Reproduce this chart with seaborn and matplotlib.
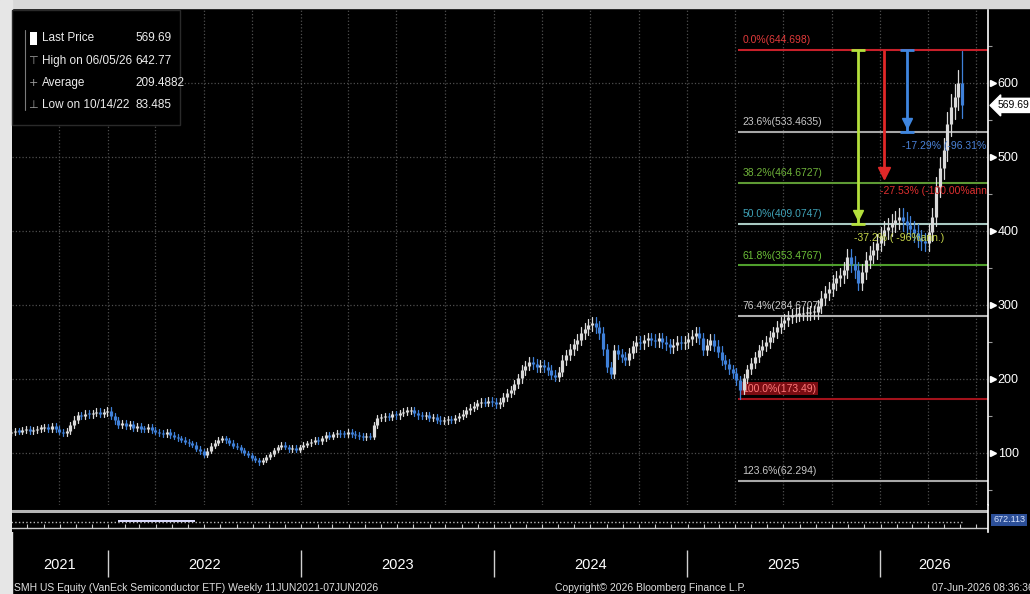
import numpy as np
import pandas as pd
import matplotlib
matplotlib.use("Agg")
import matplotlib.pyplot as plt
import matplotlib.dates as mdates
import matplotlib.transforms as mtransforms
from matplotlib.patches import Rectangle
from matplotlib.lines import Line2D
import seaborn as sns

# weekly closes, week ending 11 Jun 2021 .. 5 Jun 2026
first_week = "2021-06-11"
first_open = 125.0
closes = [
    126, 128, 127, 128, 130, 129, 131, 132, 130, 131,
    133, 134, 135, 133, 136, 132, 129, 127, 130, 138,
    145, 151, 150, 153, 152, 154, 156, 153, 155, 157,
    150, 144, 138, 141, 136, 139, 134, 137, 133, 132,
    135, 131, 129, 127, 125, 128, 124, 122, 120, 118,
    115, 113, 111, 106, 102, 97, 103, 110, 114, 118,
    120, 117, 114, 110, 108, 104, 100, 97, 93, 90,
    88, 91, 95, 99, 104, 108, 111, 108, 105, 107,
    104, 108, 111, 113, 115, 118, 116, 120, 124, 122,
    125, 127, 126, 125, 128, 126, 124, 123, 121, 123,
    122, 138, 147, 148, 150, 149, 152, 151, 154, 156,
    157, 158, 154, 151, 150, 151, 147, 148, 145, 143,
    144, 146, 145, 147, 150, 153, 158, 161, 164, 167,
    169, 168, 170, 169, 166, 169, 176, 181, 185, 193,
    201, 212, 218, 223, 220, 216, 219, 216, 212, 206,
    203, 210, 226, 232, 240, 247, 253, 262, 268, 273,
    276, 270, 262, 240, 216, 207, 239, 234, 230, 226,
    235, 244, 250, 248, 252, 255, 253, 251, 255, 250,
    247, 243, 246, 250, 248, 250, 254, 258, 262, 255,
    239, 246, 253, 245, 237, 226, 220, 213, 208, 198,
    185, 201, 213, 222, 230, 239, 245, 250, 257, 263,
    270, 276, 280, 284, 286, 287, 288, 289, 289, 290,
    290, 298, 309, 316, 322, 330, 336, 340, 347, 365,
    355, 347, 330, 345, 361, 368, 374, 384, 393, 401,
    406, 411, 415, 419, 413, 408, 402, 397, 390, 386,
    384, 398, 419, 459, 485, 510, 545, 568, 581, 600, 569.69,
]
week_highs = {260: 642.77}
week_lows = {70: 83.485, 200: 173.49}

fib_start = "2025-04-11"
fib_vals = [644.698, 533.4635, 464.6727, 409.0747, 353.4767, 284.6707, 173.49, 62.294]
fib_labels = ["0.0%(644.698)", "23.6%(533.4635)", "38.2%(464.6727)", "50.0%(409.0747)",
              "61.8%(353.4767)", "76.4%(284.6707)", "100.0%(173.49)", "123.6%(62.294)"]
fib_line_colors = ["#c8202a", "#a6a6a6", "#5e9a34", "#a9c9c2", "#4f9e2c", "#b0b0b0", "#a3121b", "#a8a8a8"]
fib_text_colors = ["#e23a3a", "#c8c8c8", "#6fb33a", "#3fa3b8", "#6cbf38", "#c8c8c8", "#ff7a7a", "#c8c8c8"]

arrow_dates = ["2025-11-21", "2026-01-09", "2026-02-20"]
arrow_top = 644.698
arrow_bottoms = [409.0747, 472.0, 533.4635]
arrow_labels = ["-37.2% ( -96%ann.)", "-27.53% (-100.00%ann.)", "-17.29% (-96.31% ann.)"]
arrow_colors = ["#b4e03c", "#e02828", "#3f86e0"]
arrow_text_colors = ["#c8d84a", "#e03030", "#4a82d8"]

price_ticks = [100, 200, 300, 400, 500, 600]
minor_ticks = [50, 150, 250, 350, 450, 550, 650]
years = [2021, 2022, 2023, 2024, 2025, 2026]
last_price = 569.69

legend_names = ["Last Price", "High on 06/05/26", "Average", "Low on 10/14/22"]
legend_values = ["569.69", "642.77", "209.4882", "83.485"]

W, H = 1030, 594
FONT = ["Liberation Sans", "DejaVu Sans"]


def fx(x):
    return x / W


def fy(y):
    return 1 - y / H


sns.set_theme(style="dark", rc={
    "figure.facecolor": "black", "axes.facecolor": "black",
    "axes.edgecolor": "white", "text.color": "white",
    "xtick.color": "white", "ytick.color": "white",
    "axes.grid": True, "grid.color": "#4e4e4e",
    "grid.linestyle": ":", "grid.linewidth": 0.9,
})
plt.rcParams["font.family"] = FONT

# ---- candles
dates = pd.date_range(first_week, periods=len(closes), freq="7D")
c = np.array(closes, dtype=float)
o = np.array([first_open] + closes[:-1], dtype=float)
body_hi = np.maximum(o, c)
body_lo = np.minimum(o, c)
hi = body_hi * 1.03
lo = body_lo * 0.97
for k, v in week_highs.items():
    hi[k] = v
for k, v in week_lows.items():
    lo[k] = v
body_hi = np.maximum(body_hi, body_lo + 1.5)
direction = np.where(c >= o, "up", "down")
idx = np.arange(len(c))
palette = {"up": "#dadada", "down": "#3f80d8"}

wicks = pd.DataFrame({
    "date": np.concatenate([dates, dates]),
    "price": np.concatenate([lo, hi]),
    "week": np.concatenate([idx, idx]),
    "dir": np.concatenate([direction, direction]),
})
bodies = pd.DataFrame({
    "date": np.concatenate([dates, dates]),
    "price": np.concatenate([body_lo, body_hi]),
    "week": np.concatenate([idx, idx]),
    "dir": np.concatenate([direction, direction]),
})

fig = plt.figure(figsize=(W / 100, H / 100), dpi=100)
fig.add_artist(Rectangle((0, fy(8)), 1, 1 - fy(8), transform=fig.transFigure,
                         color="#d8d8d8", zorder=0))
fig.add_artist(Rectangle((0, 0), fx(12), 1, transform=fig.transFigure,
                         color="#e6e6e6", zorder=0))

ax = fig.add_axes([fx(12), fy(505), fx(988) - fx(12), fy(10) - fy(505)])
x_left = pd.Timestamp(first_week) + pd.Timedelta(days=3.24 * 7)
x_right = pd.Timestamp(first_week) + pd.Timedelta(days=267 * 7)

# fibonacci levels
fs = pd.Timestamp(fib_start)
ax.hlines(fib_vals, fs - pd.Timedelta(days=4), x_right, colors=fib_line_colors, lw=1.5, zorder=2)
for val, lab, col in zip(fib_vals, fib_labels, fib_text_colors):
    kw = {}
    if lab.startswith("100.0%"):
        kw["bbox"] = dict(boxstyle="square,pad=0.15", fc="#7a0c12", ec="none")
    ax.annotate(lab, xy=(fs, val), xytext=(1.5, 3.5), textcoords="offset points",
                ha="left", va="bottom", color=col, fontsize=7.5, zorder=2.5, **kw)

sns.lineplot(data=wicks, x="date", y="price", units="week", estimator=None, hue="dir",
             palette=palette, lw=0.9, legend=False, ax=ax, sort=False, zorder=3)
sns.lineplot(data=bodies, x="date", y="price", units="week", estimator=None, hue="dir",
             palette=palette, lw=2.3, solid_capstyle="butt", legend=False, ax=ax,
             sort=False, zorder=3)

# drawdown measures
for d, bot, lab, col, tcol in zip(arrow_dates, arrow_bottoms, arrow_labels,
                                  arrow_colors, arrow_text_colors):
    d = pd.Timestamp(d)
    ax.vlines(d, bot, arrow_top, colors=col, lw=2, zorder=4)
    if col != "#e02828":
        ax.plot([d], [arrow_top], marker="_", ms=10, mew=2, color=col, zorder=4)
        ax.plot([d], [bot], marker="_", ms=10, mew=2, color=col, zorder=4)
        ax.plot([d], [bot + 12], marker="v", ms=7, color=col, zorder=4)
    else:
        ax.plot([d], [bot + 6], marker="v", ms=8, color=col, zorder=4)
    ax.annotate(lab, xy=(d, bot), xytext=(-3, -6), textcoords="offset points",
                ha="left", va="top", color=tcol, fontsize=7.5, zorder=4, clip_on=True)

ax.set_xlim(x_left, x_right)
ax.set_ylim(29.7, 698.6)
ax.set_xlabel("")
ax.set_ylabel("")
ax.xaxis.set_major_locator(mdates.MonthLocator(bymonth=[1, 4, 7, 10]))
ax.tick_params(axis="x", length=0, labelbottom=False)
ax.yaxis.tick_right()
ax.set_yticks(price_ticks)
ax.set_yticks(minor_ticks, minor=True)
ax.tick_params(axis="y", which="major", length=0, pad=7, labelsize=9, labelcolor="white")
ax.tick_params(axis="y", which="minor", length=3, width=0.8, color="#9a9a9a", direction="out")
ax.grid(True, which="major", color="#4e4e4e", linestyle=":", linewidth=0.9)
ax.grid(False, which="minor")
for s in ["left", "top", "bottom"]:
    ax.spines[s].set_visible(False)
ax.spines["right"].set_color("white")
ax.spines["right"].set_linewidth(1.2)

trans = mtransforms.blended_transform_factory(ax.transAxes, ax.transData)
ax.plot([1.005] * len(price_ticks), price_ticks, transform=trans, ls="none", marker=">",
        ms=4, color="white", clip_on=False)
ax.annotate(f"{last_price:.2f}", xy=(1.0, last_price), xycoords=trans, xytext=(7, 0),
            textcoords="offset points", ha="left", va="center", color="black", fontsize=7.5,
            bbox=dict(boxstyle="larrow,pad=0.2", fc="white", ec="white"),
            annotation_clip=False)

# ---- date strip under the chart
ax_strip = fig.add_axes([fx(12), fy(532), fx(988) - fx(12), fy(505) - fy(532)])
ax_strip.set_facecolor("black")
ax_strip.set_xlim(x_left, x_right)
ax_strip.set_ylim(0, 1)
ax_strip.axhline(0.78, color="#b4b4b4", lw=2.2)
ax_strip.hlines(0.37, dates[0], dates[-1], colors="#bcbcbc", lw=1, linestyles=":")
ax_strip.hlines(0.41, pd.Timestamp("2022-01-20"), pd.Timestamp("2022-06-15"),
                colors="#dcdcff", lw=1.4)
ax_strip.axhline(0.15, color="#c8c8c8", lw=1)
months = pd.date_range(x_left, x_right, freq="MS")
ax_strip.vlines(months, 0.15, 0.28, colors="#c8c8c8", lw=0.8)
ax_strip.grid(False)
ax_strip.set_xticks([])
ax_strip.set_yticks([])
for s in ["left", "top", "bottom"]:
    ax_strip.spines[s].set_visible(False)
ax_strip.spines["right"].set_color("white")
ax_strip.spines["right"].set_linewidth(1.2)
fig.text(fx(993), fy(520), "672.113", color="#d8e4ff", fontsize=6.5, va="center", ha="left",
         bbox=dict(boxstyle="square,pad=0.2", fc="#2c4f98", ec="none"))

# ---- year labels
ax_years = fig.add_axes([fx(12), fy(582), fx(988) - fx(12), fy(532) - fy(582)])
ax_years.set_facecolor("black")
ax_years.set_xlim(x_left, x_right)
ax_years.set_ylim(0, 1)
year_starts = [pd.Timestamp(f"{y}-01-01") for y in years[1:]]
ax_years.vlines(year_starts, 0.1, 0.64, colors="#d0d0d0", lw=1)
edges = [x_left] + year_starts + [x_right]
for y, a, b in zip(years, edges[:-1], edges[1:]):
    ax_years.text(a + (b - a) / 2, 0.34, str(y), ha="center", va="center",
                  color="white", fontsize=10.5)
ax_years.grid(False)
ax_years.axis("off")

# ---- legend box
fig.add_artist(Rectangle((fx(12), fy(125)), fx(180) - fx(12), fy(10) - fy(125),
                         transform=fig.transFigure, fc="black", ec="#2a2a2a", lw=1, zorder=5))
fig.add_artist(Rectangle((fx(30), fy(45)), fx(7), fy(0) - fy(13), transform=fig.transFigure,
                         fc="white", ec="none", zorder=6))
fig.add_artist(Line2D([fx(25), fx(25)], [fy(30), fy(110)], transform=fig.transFigure,
                      color="#7a7a7a", lw=0.8, zorder=6))
icons = ["", "\u22a4", "+", "\u22a5"]
rows_y = [38, 61, 83, 105]
for ic, name, val, yy in zip(icons, legend_names, legend_values, rows_y):
    if ic:
        fig.text(fx(33), fy(yy), ic, color="#a0a0a0", fontsize=8, ha="center", va="center",
                 family="DejaVu Sans", zorder=6)
    fig.text(fx(42), fy(yy), name, color="#ececec", fontsize=8.5, ha="left", va="center", zorder=6)
    fig.text(fx(135), fy(yy), val, color="#ececec", fontsize=8.5, ha="left", va="center", zorder=6)

# ---- footer
fig.text(fx(14), fy(588), "SMH US Equity (VanEck Semiconductor ETF) Weekly 11JUN2021-07JUN2026",
         color="#e0e0e0", fontsize=7.5, va="center", ha="left")
fig.text(fx(555), fy(588), "Copyright\u00a9 2026 Bloomberg Finance L.P.",
         color="#e0e0e0", fontsize=7.5, va="center", ha="left")
fig.text(fx(932), fy(588), "07-Jun-2026 08:36:36", color="#e0e0e0", fontsize=7.5,
         va="center", ha="left")

fig.savefig("out.png", dpi=100, facecolor="black")
